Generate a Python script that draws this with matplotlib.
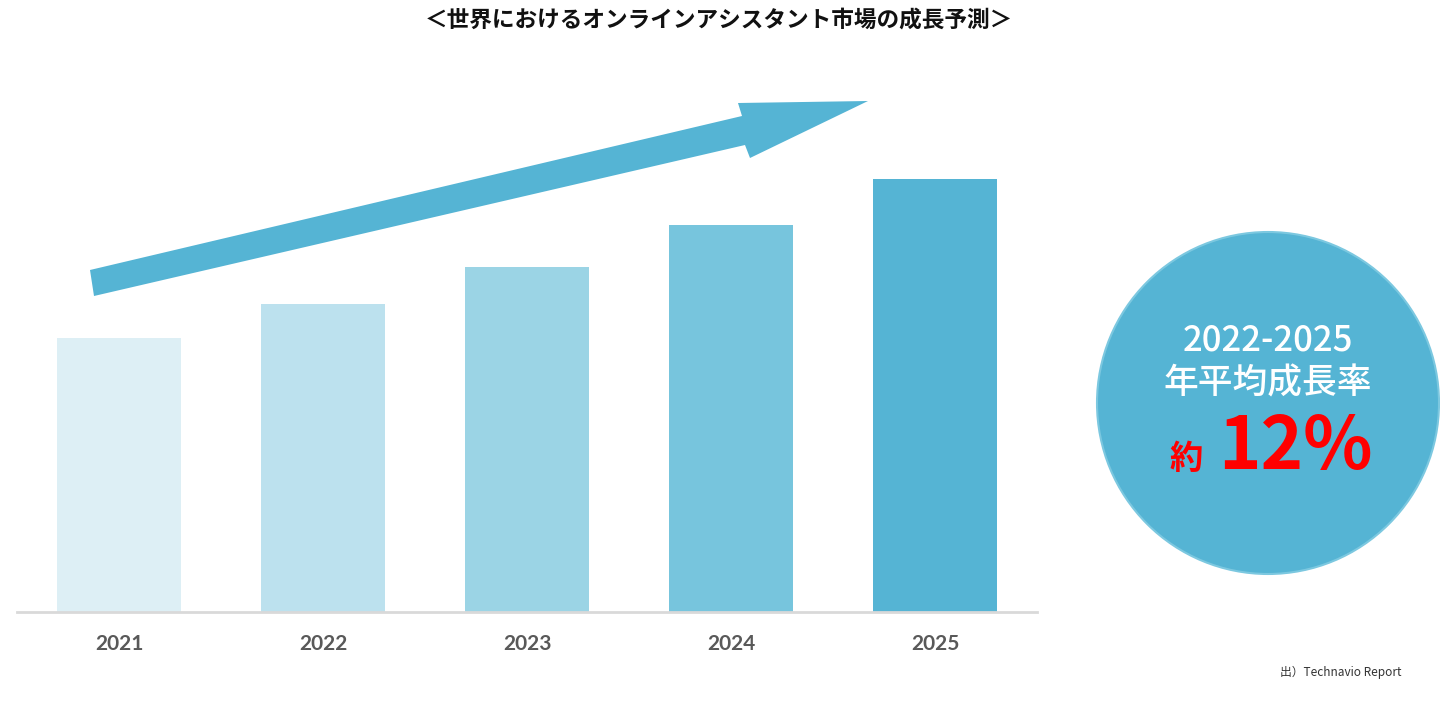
import matplotlib
matplotlib.use("Agg")
import matplotlib.pyplot as plt
from matplotlib.patches import Ellipse, Polygon

# ---- data ----
years = ["2021", "2022", "2023", "2024", "2025"]
market_index = [100.0, 112.4, 125.9, 141.2, 158.0]   # relative market size (2021 = 100)
bar_colors = ["#DDEFF5", "#BCE1EE", "#9BD4E5", "#77C5DD", "#55B4D4"]
title = "＜世界におけるオンラインアシスタント市場の成長予測＞"
cagr_period = "2022-2025"
cagr_label = "年平均成長率"
cagr_prefix = "約"
cagr_value = "12%"
source = "出）Technavio Report"

W, H = 1440, 706
fig = plt.figure(figsize=(W / 100, H / 100), dpi=100)
fig.patch.set_facecolor("white")

def fx(px):
    return px / W

def fy(py):
    return 1 - py / H

# axes
base_px, top_px = 612, 80
ax = fig.add_axes([fx(17), fy(base_px), fx(1037) - fx(17), (base_px - top_px) / H])
x = list(range(len(years)))
ax.bar(x, market_index, width=0.608, color=bar_colors, zorder=2)
ax.set_xlim(-0.5, 4.5)
px_per_unit = 433 / 158.0
ax.set_ylim(0, (base_px - top_px) / px_per_unit)
for s in ["top", "right", "left"]:
    ax.spines[s].set_visible(False)
ax.spines["bottom"].set_color("#D9D9D9")
ax.spines["bottom"].set_linewidth(2)
ax.set_yticks([])
ax.set_xticks(x)
ax.set_xticklabels(years, fontfamily="Lato", fontweight="bold", fontsize=15, color="#595959")
ax.tick_params(axis="x", length=0, pad=16)
ax.set_facecolor("none")

# growth arrow (decorative)
arrow_px = [(90, 270), (742, 116), (738, 103), (868, 101), (750, 158), (745, 145), (94, 296)]
fig.patches.append(Polygon([(fx(a), fy(b)) for a, b in arrow_px], closed=True,
                           transform=fig.transFigure, facecolor="#55B4D4",
                           edgecolor="none", zorder=3))

# CAGR circle
cx, cy, r = 1268, 403, 171
fig.patches.append(Ellipse((fx(cx), fy(cy)), 2 * r / W, 2 * r / H,
                           transform=fig.transFigure, facecolor="#55B4D4",
                           edgecolor="#7CC8E0", linewidth=1.5, zorder=1))

cjk = ["Noto Sans CJK JP", "DejaVu Sans"]
fig.text(fx(1268), fy(341), cagr_period, ha="center", va="center", color="white",
         fontsize=25, family=cjk, fontweight="medium")
fig.text(fx(1268), fy(383), cagr_label, ha="center", va="center", color="white",
         fontsize=25, family=cjk, fontweight="medium")
fig.text(fx(1186), fy(459), cagr_prefix, ha="center", va="center", color="#FF0000",
         fontsize=24, family=cjk, fontweight="bold")
fig.text(fx(1295), fy(448), cagr_value, ha="center", va="center", color="#FF0000",
         fontsize=52, family=cjk, fontweight="bold")

# title
fig.text(fx(719), fy(20), title, ha="center", va="center", color="#111111",
         fontsize=16.3, family=cjk, fontweight="bold")

# source
fig.text(fx(1402), fy(672), source, ha="right", va="center", color="#333333",
         fontsize=8.5, family=cjk)

fig.savefig("out.png", dpi=100, facecolor="white")
